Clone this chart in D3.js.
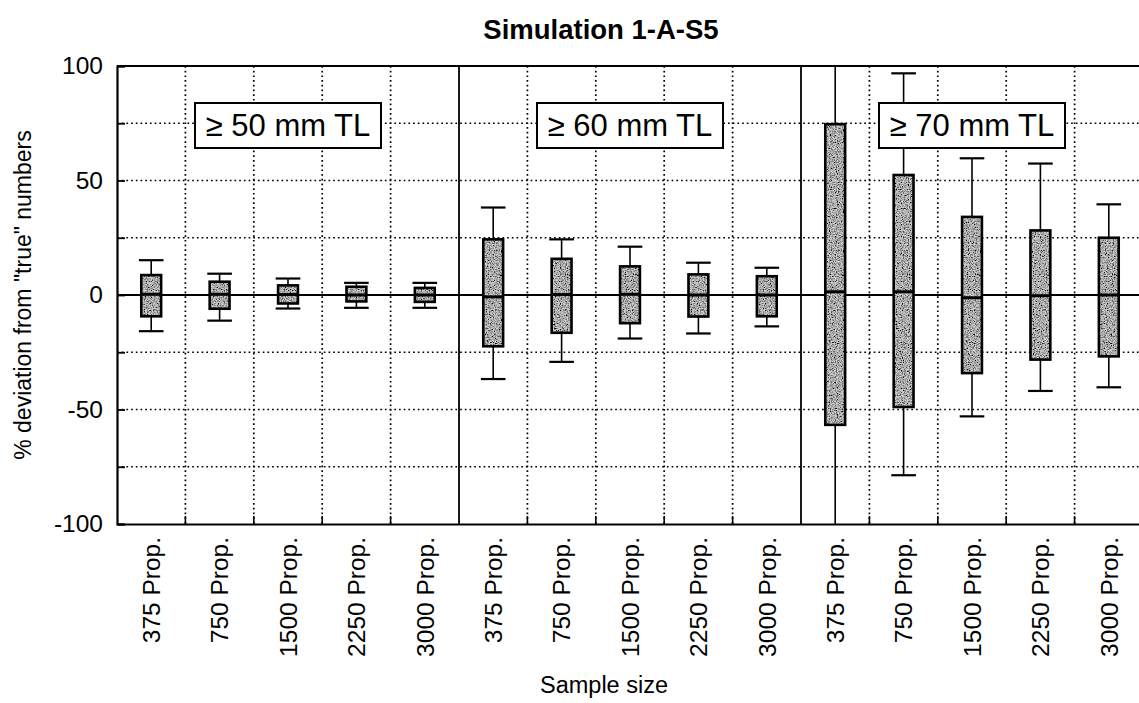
<!DOCTYPE html>
<html>
<head>
<meta charset="utf-8">
<script src="https://cdn.jsdelivr.net/npm/d3@7"></script>
<style>
  html, body { margin: 0; padding: 0; background: #fff; }
  svg { display: block; font-family: "Liberation Sans", Arial, Helvetica, sans-serif; }
</style>
</head>
<body>
<svg id="chart" width="1139" height="703"></svg>
<script>
// Size-class panels and the sample sizes simulated inside each
const panelLabels = ["≥ 50 mm TL", "≥ 60 mm TL", "≥ 70 mm TL"];
const sampleSizes = ["375 Prop.", "750 Prop.", "1500 Prop.", "2250 Prop.", "3000 Prop."];

// Box-plot statistics, % deviation from true numbers (5 per panel, panels in order)
const whiskerHigh = [15.2, 9.3, 7.2, 5.3, 5.3,   38.2, 24.3, 21.1, 14.1, 11.9,   115, 96.8, 59.7, 57.4, 39.6];
const boxHigh     = [8.7, 5.8, 4.2, 3.6, 3.1,    24.3, 15.8, 12.5, 9.0, 8.2,     74.6, 52.4, 34.1, 28.2, 25.0];
const medians     = [0.3, 0.3, 0.2, 0, 0,        -0.8, 0.2, 0.3, 0, 0,           1.4, 1.4, -1.2, -0.3, 0];
const boxLow      = [-9.3, -6.0, -3.7, -2.8, -3.0, -22.4, -16.5, -12.3, -9.4, -9.3, -56.7, -48.9, -34.1, -28.2, -26.8];
const whiskerLow  = [-15.8, -11.2, -5.9, -5.6, -5.6, -36.7, -29.2, -19.0, -16.8, -13.7, -120, -78.7, -53.0, -41.9, -40.3];

const yTickValues = [-100, -50, 0, 50, 100];
const yGridValues = [-75, -50, -25, 25, 50, 75];

const titleText = "Simulation 1-A-S5";
const yTitle = "% deviation from \"true\" numbers";
const xTitle = "Sample size";

// Build one record per box
const records = [];
panelLabels.forEach((p, pi) => {
  sampleSizes.forEach((s, si) => {
    const i = pi * sampleSizes.length + si;
    records.push({
      key: i, panel: pi, label: s,
      wHi: whiskerHigh[i], q3: boxHigh[i], med: medians[i], q1: boxLow[i], wLo: whiskerLow[i]
    });
  });
});

const plot = { left: 117, right: 1143, top: 66, bottom: 524 };

const svg = d3.select("#chart");

const x = d3.scaleBand()
  .domain(records.map(d => d.key))
  .range([plot.left, plot.right])
  .padding(0);

const y = d3.scaleLinear()
  .domain([-100, 100])
  .range([plot.bottom, plot.top]);

const bw = x.bandwidth();
const boxW = bw * 0.29;
const capW = bw * 0.36;

// Grainy fill for the boxes
const defs = svg.append("defs");
const grain = defs.append("filter").attr("id", "grain")
  .attr("x", 0).attr("y", 0).attr("width", 1).attr("height", 1);
grain.append("feTurbulence")
  .attr("type", "fractalNoise").attr("baseFrequency", 0.85)
  .attr("numOctaves", 2).attr("seed", 7).attr("result", "noise");
grain.append("feColorMatrix").attr("in", "noise").attr("type", "matrix")
  .attr("values", "0 0 0 0 0  0 0 0 0 0  0 0 0 0 0  0 0 0 -2.6 1.65")
  .attr("result", "dots");
grain.append("feComposite").attr("in", "dots").attr("in2", "SourceGraphic")
  .attr("operator", "in").attr("result", "clipped");
const merge = grain.append("feMerge");
merge.append("feMergeNode").attr("in", "SourceGraphic");
merge.append("feMergeNode").attr("in", "clipped");

defs.append("clipPath").attr("id", "plotClip")
  .append("rect")
  .attr("x", plot.left).attr("y", plot.top)
  .attr("width", plot.right - plot.left).attr("height", plot.bottom - plot.top);

// Dotted grid
const grid = svg.append("g").attr("class", "grid")
  .attr("stroke", "#000").attr("stroke-width", 1.7)
  .attr("stroke-dasharray", "1.7,3");

grid.selectAll("line.h").data(yGridValues).join("line")
  .attr("class", "h")
  .attr("x1", plot.left).attr("x2", plot.right)
  .attr("y1", d => y(d)).attr("y2", d => y(d));

const boundaries = records.slice(1).map(d => d.key).filter(k => k % sampleSizes.length !== 0);
grid.selectAll("line.v").data(boundaries).join("line")
  .attr("class", "v")
  .attr("x1", d => x(d)).attr("x2", d => x(d))
  .attr("y1", plot.top).attr("y2", plot.bottom);

// Solid panel dividers
const dividers = d3.range(1, panelLabels.length).map(p => x(p * sampleSizes.length));
svg.append("g").selectAll("line").data(dividers).join("line")
  .attr("x1", d => d).attr("x2", d => d)
  .attr("y1", plot.top).attr("y2", plot.bottom)
  .attr("stroke", "#000").attr("stroke-width", 1.8);

// Zero reference line
svg.append("line")
  .attr("x1", plot.left).attr("x2", plot.right)
  .attr("y1", y(0)).attr("y2", y(0))
  .attr("stroke", "#000").attr("stroke-width", 1.8);

// Axes
const yAxis = d3.axisLeft(y).tickValues(d3.range(-100, 101, 25))
  .tickSize(-8).tickPadding(14)
  .tickFormat(d => yTickValues.includes(d) ? String(d) : "");
const gy = svg.append("g").attr("transform", `translate(${plot.left},0)`).call(yAxis);
gy.select(".domain").attr("stroke-width", 2.2);
gy.selectAll(".tick line").attr("stroke-width", 1.8);
gy.selectAll(".tick text")
  .attr("font-size", 24.5).attr("fill", "#000")
  .attr("font-family", "\"Liberation Sans\", Arial, sans-serif");

const xAxis = d3.axisBottom(x).tickSize(0).tickPadding(0).tickFormat(k => records[k].label);
const gx = svg.append("g").attr("transform", `translate(0,${plot.bottom})`).call(xAxis);
gx.select(".domain").attr("stroke-width", 2.2);
gx.selectAll(".tick text")
  .attr("font-size", 24.5).attr("fill", "#000")
  .attr("font-family", "\"Liberation Sans\", Arial, sans-serif")
  .attr("transform", "rotate(-90)")
  .attr("text-anchor", "end")
  .attr("x", -13).attr("y", 0).attr("dy", "0.36em");

// Small inward ticks on the bottom axis at each category boundary
svg.append("g").selectAll("line").data(boundaries).join("line")
  .attr("x1", d => x(d)).attr("x2", d => x(d))
  .attr("y1", plot.bottom).attr("y2", plot.bottom - 8)
  .attr("stroke", "#000").attr("stroke-width", 1.6);

// Top frame line
svg.append("line")
  .attr("x1", plot.left).attr("x2", plot.right)
  .attr("y1", plot.top).attr("y2", plot.top)
  .attr("stroke", "#000").attr("stroke-width", 2.2);

// Box plots
const boxes = svg.append("g").attr("clip-path", "url(#plotClip)")
  .selectAll("g.box").data(records).join("g").attr("class", "box")
  .attr("transform", d => `translate(${x(d.key) + bw / 2},0)`);

boxes.append("line")
  .attr("x1", 0).attr("x2", 0)
  .attr("y1", d => y(d.wHi)).attr("y2", d => y(d.wLo))
  .attr("stroke", "#000").attr("stroke-width", 1.6);

boxes.selectAll("line.cap").data(d => [d.wHi, d.wLo]).join("line")
  .attr("class", "cap")
  .attr("x1", -capW / 2).attr("x2", capW / 2)
  .attr("y1", v => y(v)).attr("y2", v => y(v))
  .attr("stroke", "#000").attr("stroke-width", 2.2);

boxes.append("rect")
  .attr("x", -boxW / 2).attr("width", boxW)
  .attr("y", d => y(d.q3)).attr("height", d => y(d.q1) - y(d.q3))
  .attr("fill", "#cfcfcf")
  .attr("filter", "url(#grain)");

boxes.append("rect")
  .attr("x", -boxW / 2).attr("width", boxW)
  .attr("y", d => y(d.q3)).attr("height", d => y(d.q1) - y(d.q3))
  .attr("fill", "none").attr("stroke", "#000").attr("stroke-width", 2.6);

boxes.append("line")
  .attr("x1", -boxW / 2).attr("x2", boxW / 2)
  .attr("y1", d => y(d.med)).attr("y2", d => y(d.med))
  .attr("stroke", "#000").attr("stroke-width", 3);

// Panel labels
const labelW = 186, labelH = 45, labelTop = 103;
const panelCenters = panelLabels.map((p, i) =>
  (x(i * sampleSizes.length) + x((i + 1) * sampleSizes.length - 1) + bw) / 2);
const lab = svg.append("g").selectAll("g").data(panelLabels).join("g")
  .attr("transform", (d, i) => `translate(${panelCenters[i]},${labelTop})`);
lab.append("rect")
  .attr("x", -labelW / 2).attr("y", 0).attr("width", labelW).attr("height", labelH)
  .attr("fill", "#fff").attr("stroke", "#000").attr("stroke-width", 2);
lab.append("text")
  .attr("x", 0).attr("y", 33)
  .attr("text-anchor", "middle").attr("font-size", 31)
  .text(d => d);

// Titles
svg.append("text")
  .attr("x", 601).attr("y", 39)
  .attr("text-anchor", "middle").attr("font-size", 27.5).attr("font-weight", "bold")
  .text(titleText);

svg.append("text")
  .attr("transform", `translate(31,${(plot.top + plot.bottom) / 2}) rotate(-90)`)
  .attr("text-anchor", "middle").attr("font-size", 23)
  .text(yTitle);

svg.append("text")
  .attr("x", 604).attr("y", 693)
  .attr("text-anchor", "middle").attr("font-size", 23.5)
  .text(xTitle);
</script>
</body>
</html>
